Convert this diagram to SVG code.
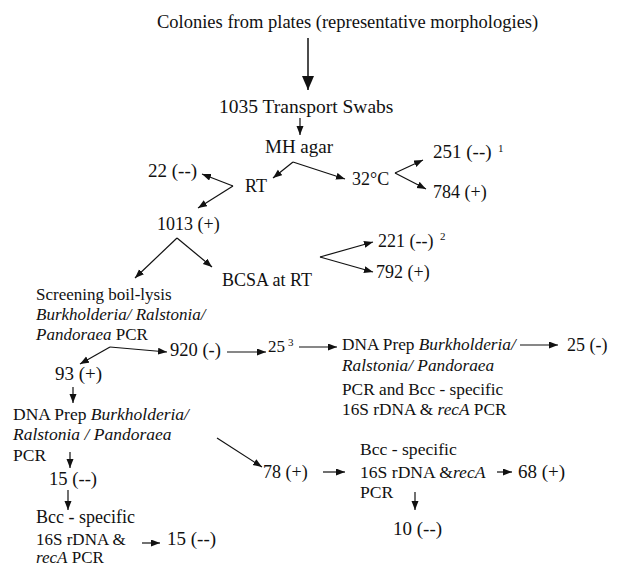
<svg xmlns="http://www.w3.org/2000/svg" width="622" height="570" viewBox="0 0 622 570">
<style>
text{font-family:"Liberation Serif","Times New Roman",serif;font-size:18px;fill:#111}
.i{font-style:italic}
.sup{font-size:11px}
.c line{stroke:#111;stroke-width:1.2;marker-end:url(#ah)}
.c line.big{stroke-width:1.5;marker-end:url(#bh)}
</style>
<defs>
<marker id="ah" markerUnits="userSpaceOnUse" markerWidth="10" markerHeight="8" refX="9" refY="3.5" orient="auto"><path d="M0,0 L9,3.5 L0,7 z" fill="#111"/></marker>
<marker id="bh" markerUnits="userSpaceOnUse" markerWidth="16" markerHeight="14" refX="14" refY="6" orient="auto"><path d="M0,0 L14,6 L0,12 z" fill="#111"/></marker>
</defs>
<rect width="622" height="570" fill="#fff"/>
<g class="c" id="connectors">
<line class="big" x1="308" y1="38" x2="308" y2="90"/>
<line x1="300" y1="118" x2="300" y2="135"/>
<line x1="293" y1="162" x2="273" y2="178"/>
<line x1="293" y1="162" x2="345" y2="179"/>
<line x1="233" y1="186" x2="202" y2="174"/>
<line x1="233" y1="186" x2="198" y2="208"/>
<line x1="395" y1="173" x2="423" y2="160"/>
<line x1="395" y1="173" x2="426" y2="189"/>
<line x1="177" y1="238" x2="135" y2="278"/>
<line x1="177" y1="238" x2="212" y2="267"/>
<line x1="320" y1="257" x2="373" y2="242"/>
<line x1="320" y1="257" x2="373" y2="272"/>
<line x1="110" y1="347" x2="80" y2="364"/>
<line x1="110" y1="347" x2="167" y2="352"/>
<line x1="227" y1="352" x2="266" y2="352"/>
<line x1="299" y1="347" x2="337" y2="347"/>
<line x1="520" y1="345" x2="558" y2="345"/>
<line x1="73" y1="387" x2="73" y2="403"/>
<line x1="70" y1="452" x2="70" y2="468"/>
<line x1="68" y1="490" x2="68" y2="510"/>
<line x1="142" y1="543" x2="160" y2="543"/>
<line x1="217" y1="438" x2="262" y2="467"/>
<line x1="323" y1="472" x2="345" y2="472"/>
<line x1="497" y1="472" x2="512" y2="472"/>
<line x1="415" y1="492" x2="415" y2="510"/>
</g>
<g id="colonies"><text x="157" y="28" style="font-size:18.5px">Colonies from plates (representative morphologies)</text></g>
<g id="swabs"><text x="219" y="113" style="font-size:19.5px">1035 Transport Swabs</text></g>
<g id="mh"><text x="265" y="153" style="font-size:19px">MH agar</text></g>
<g id="rt"><text x="245" y="192">RT</text></g>
<g id="n22"><text x="148" y="177" style="font-size:19px">22 (--)</text></g>
<g id="n1013"><text x="157" y="230">1013 (+)</text></g>
<g id="t32"><text x="352" y="185">32°C</text></g>
<g id="n251"><text x="433" y="158" style="font-size:19px">251 (--)</text><text class="sup" x="498" y="152">1</text></g>
<g id="n784"><text x="433" y="198">784 (+)</text></g>
<g id="bcsa"><text x="222" y="286">BCSA at RT</text></g>
<g id="n221"><text x="378" y="247">221 (--)</text><text class="sup" x="440" y="240">2</text></g>
<g id="n792"><text x="376" y="278">792 (+)</text></g>
<g id="screen">
<text x="36" y="300" style="font-size:17px">Screening boil-lysis</text>
<text x="36" y="320" style="font-size:17px"><tspan class="i">Burkholderia/ Ralstonia/</tspan></text>
<text x="36" y="340" style="font-size:17px"><tspan class="i">Pandoraea</tspan> PCR</text>
</g>
<g id="n920"><text x="170" y="356" style="font-size:18.5px">920 (-)</text></g>
<g id="n25"><text x="268" y="352" style="font-size:17px">25</text><text class="sup" x="288" y="346">3</text></g>
<g id="dnaR">
<text x="342" y="350" style="font-size:17.3px">DNA Prep <tspan class="i">Burkholderia/</tspan></text>
<text x="342" y="371" style="font-size:17.3px"><tspan class="i">Ralstonia/ Pandoraea</tspan></text>
<text x="342" y="395" style="font-size:17.3px">PCR and Bcc  -  specific</text>
<text x="342" y="415" style="font-size:17.3px">16S rDNA &amp; <tspan class="i">recA</tspan>  PCR</text>
</g>
<g id="n25m"><text x="567" y="351">25 (-)</text></g>
<g id="n93"><text x="55" y="380" style="font-size:19px">93 (+)</text></g>
<g id="dnaL">
<text x="13" y="420" style="font-size:17.5px">DNA Prep <tspan class="i">Burkholderia/</tspan></text>
<text x="13" y="440" style="font-size:17.5px"><tspan class="i">Ralstonia / Pandoraea</tspan></text>
<text x="13" y="461" style="font-size:17.5px">PCR</text>
</g>
<g id="n15a"><text x="49" y="485" style="font-size:18.6px">15 (--)</text></g>
<g id="bccL">
<text x="36" y="523">Bcc - specific</text>
<text x="36" y="545" style="font-size:17px">16S rDNA &amp;</text>
<text x="36" y="563" style="font-size:17px"><tspan class="i">recA</tspan> PCR</text>
</g>
<g id="n15b"><text x="167" y="545" style="font-size:19px">15 (--)</text></g>
<g id="n78"><text x="263" y="478">78 (+)</text></g>
<g id="bccR">
<text x="360" y="455" style="font-size:17.6px">Bcc - specific</text>
<text x="360" y="478" style="font-size:17.6px">16S rDNA &amp;<tspan class="i">recA</tspan></text>
<text x="360" y="498" style="font-size:17.6px">PCR</text>
</g>
<g id="n68"><text x="518" y="478" style="font-size:19px">68 (+)</text></g>
<g id="n10"><text x="393" y="535" style="font-size:19px">10 (--)</text></g>
</svg>
